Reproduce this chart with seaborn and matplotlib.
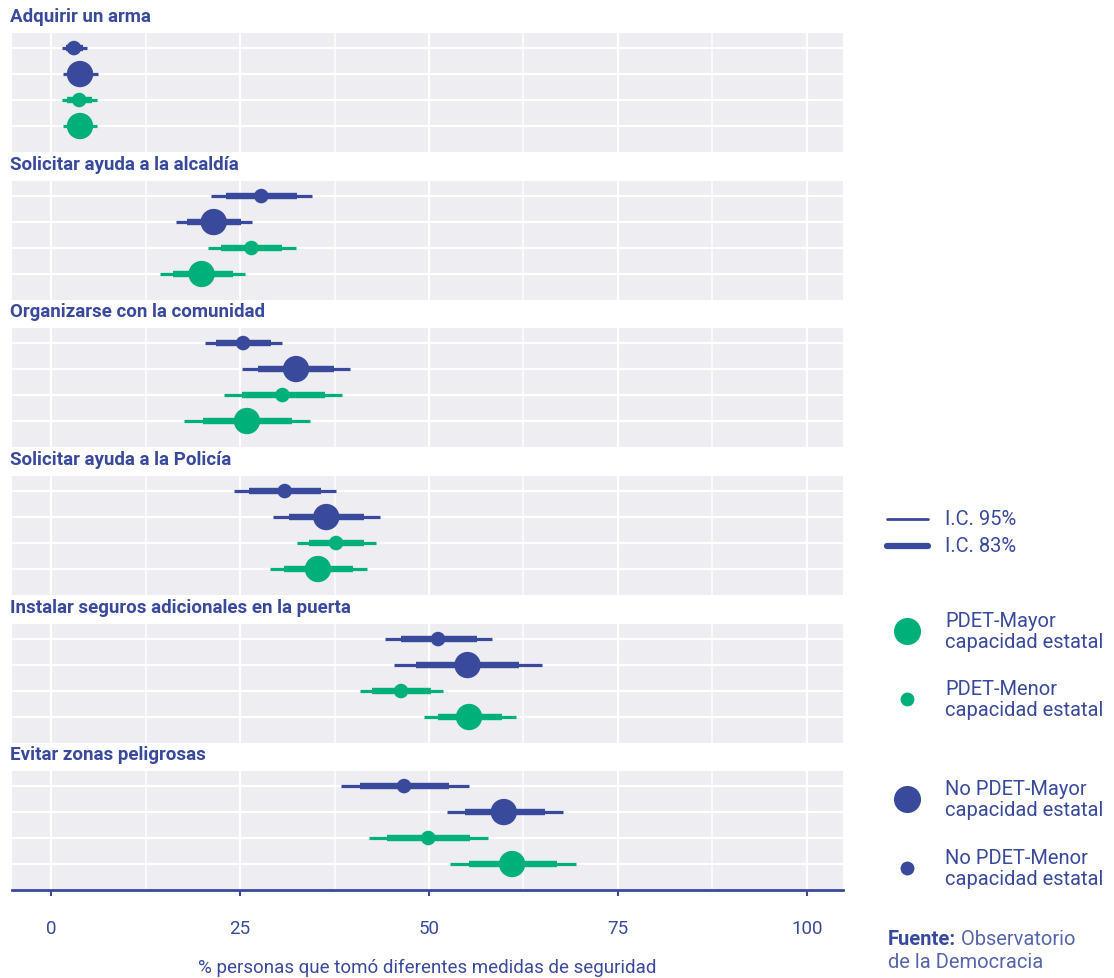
import numpy as np
import pandas as pd
import matplotlib
matplotlib.use('Agg')
import matplotlib.pyplot as plt
import seaborn as sns

medidas = ['Adquirir un arma', 'Solicitar ayuda a la alcaldía', 'Organizarse con la comunidad',
           'Solicitar ayuda a la Policía', 'Instalar seguros adicionales en la puerta',
           'Evitar zonas peligrosas']

grupos = ['No PDET-Menor', 'No PDET-Mayor', 'PDET-Menor', 'PDET-Mayor']

nopdet_menor_est = [3.0, 27.8, 25.4, 30.9, 51.2, 46.7]
nopdet_menor_lo95 = [1.4, 21.1, 20.3, 24.2, 44.2, 38.3]
nopdet_menor_hi95 = [4.7, 34.5, 30.6, 37.7, 58.4, 55.3]
nopdet_menor_lo83 = [1.9, 23.1, 21.8, 26.2, 46.3, 40.9]
nopdet_menor_hi83 = [4.2, 32.5, 29.1, 35.7, 56.3, 52.7]

nopdet_mayor_est = [3.8, 21.5, 32.4, 36.4, 55.1, 59.9]
nopdet_mayor_lo95 = [1.6, 16.5, 25.3, 29.4, 45.4, 52.4]
nopdet_mayor_hi95 = [6.2, 26.6, 39.6, 43.5, 64.9, 67.7]
nopdet_mayor_lo83 = [2.2, 18.0, 27.4, 31.5, 48.3, 54.7]
nopdet_mayor_hi83 = [5.5, 25.1, 37.4, 41.4, 61.9, 65.4]

pdet_menor_est = [3.7, 26.5, 30.6, 37.7, 46.3, 49.9]
pdet_menor_lo95 = [1.4, 20.7, 22.9, 32.5, 40.9, 42.1]
pdet_menor_hi95 = [6.0, 32.4, 38.5, 43.0, 51.9, 57.8]
pdet_menor_lo83 = [2.1, 22.5, 25.3, 34.1, 42.4, 44.5]
pdet_menor_hi83 = [5.4, 30.6, 36.2, 41.4, 50.3, 55.4]

pdet_mayor_est = [3.8, 19.9, 25.9, 35.3, 55.3, 61.0]
pdet_mayor_lo95 = [1.6, 14.4, 17.6, 28.9, 49.3, 52.8]
pdet_mayor_hi95 = [6.1, 25.7, 34.3, 41.8, 61.5, 69.4]
pdet_mayor_lo83 = [2.2, 16.1, 20.1, 30.8, 51.2, 55.3]
pdet_mayor_hi83 = [5.4, 24.0, 31.8, 39.9, 59.6, 66.9]

x_ticks = [0, 25, 50, 75, 100]

AZUL = '#394A9C'
VERDE = '#00B07A'
FONDO = '#EDEDF2'

filas = []
tablas = [
    (nopdet_menor_est, nopdet_menor_lo95, nopdet_menor_hi95, nopdet_menor_lo83, nopdet_menor_hi83),
    (nopdet_mayor_est, nopdet_mayor_lo95, nopdet_mayor_hi95, nopdet_mayor_lo83, nopdet_mayor_hi83),
    (pdet_menor_est, pdet_menor_lo95, pdet_menor_hi95, pdet_menor_lo83, pdet_menor_hi83),
    (pdet_mayor_est, pdet_mayor_lo95, pdet_mayor_hi95, pdet_mayor_lo83, pdet_mayor_hi83),
]
for g, (est, lo95, hi95, lo83, hi83) in zip(grupos, tablas):
    for i, m in enumerate(medidas):
        filas.append({'medida': m, 'grupo': g, 'fila': grupos.index(g),
                      'pdet': 'No PDET' if g.startswith('No') else 'PDET',
                      'capacidad': g.split('-')[1],
                      'est': est[i], 'lo95': lo95[i], 'hi95': hi95[i],
                      'lo83': lo83[i], 'hi83': hi83[i]})
df = pd.DataFrame(filas)

sns.set_style('white')
plt.rcParams['font.family'] = ['Roboto', 'DejaVu Sans']

W, H = 1114, 979
fig = plt.figure(figsize=(W / 100, H / 100), dpi=100)

paleta = {'No PDET': AZUL, 'PDET': VERDE}
tamanos = {'Mayor': 360, 'Menor': 110}

tops = [34, 182, 329, 477, 625, 772]
alto = 119
izq, der = 12, 843

for k, m in enumerate(medidas):
    ax = fig.add_axes([izq / W, 1 - (tops[k] + alto) / H, (der - izq) / W, alto / H])
    ax.set_facecolor(FONDO)
    sub = df[df['medida'] == m]
    for xv in np.arange(0, 101, 12.5):
        ax.axvline(xv, color='white', lw=1.6 if xv % 25 == 0 else 1.1, zorder=0)
    for r in range(4):
        ax.axhline(r, color='white', lw=1.6, zorder=0)
    for _, row in sub.iterrows():
        c = paleta[row['pdet']]
        ax.hlines(row['fila'], row['lo95'], row['hi95'], color=c, lw=2.3, zorder=2)
        ax.hlines(row['fila'], row['lo83'], row['hi83'], color=c, lw=4.6, zorder=3)
    sns.scatterplot(data=sub, x='est', y='fila', hue='pdet', size='capacidad',
                    palette=paleta, sizes=tamanos, linewidth=0, legend=False,
                    ax=ax, zorder=4)
    ax.set_xlim(-5.2, 104.8)
    ax.set_ylim(4.0, -0.58)
    ax.set_yticks([])
    ax.set_xlabel('')
    ax.set_ylabel('')
    for s in ax.spines.values():
        s.set_visible(False)
    fig.text(10 / W, 1 - (tops[k] - 17) / H, m, fontsize=13.5, fontweight='bold',
             color=AZUL, va='center', ha='left')
    if k == len(medidas) - 1:
        ax.spines['bottom'].set_visible(True)
        ax.spines['bottom'].set_color(AZUL)
        ax.spines['bottom'].set_linewidth(2)
        ax.set_xticks(x_ticks)
        ax.set_xticklabels([str(t) for t in x_ticks])
        ax.tick_params(axis='x', colors=AZUL, length=4, width=1.5, pad=17,
                       labelsize=13.5, bottom=True)
    else:
        ax.set_xticks([])

fig.text(((izq + der) / 2) / W, 1 - 968 / H,
         '% personas que tomó diferentes medidas de seguridad',
         fontsize=13.5, color=AZUL, ha='center', va='center')

# leyenda a la derecha
lg = fig.add_axes([0, 0, 1, 1])
lg.set_xlim(0, W)
lg.set_ylim(H, 0)
lg.axis('off')
lg.patch.set_alpha(0)

lg.plot([887, 928], [520, 520], color=AZUL, lw=2.0)
lg.text(945, 520, 'I.C. 95%', fontsize=14.5, color=AZUL, va='center')
lg.plot([887, 928], [547, 547], color=AZUL, lw=4.5)
lg.text(945, 547, 'I.C. 83%', fontsize=14.5, color=AZUL, va='center')

items = [(632, VERDE, 19.5, 'PDET-Mayor\ncapacidad estatal'),
         (700, VERDE, 10, 'PDET-Menor\ncapacidad estatal'),
         (800, AZUL, 19.5, 'No PDET-Mayor\ncapacidad estatal'),
         (869, AZUL, 10, 'No PDET-Menor\ncapacidad estatal')]
for yy, c, ms, txt in items:
    lg.plot([907], [yy], 'o', color=c, ms=ms, mew=0)
    lg.text(945, yy, txt, fontsize=14.5, color=AZUL, va='center', linespacing=1.18)

t = lg.text(888, 940, 'Fuente:', fontsize=14.5, color=AZUL, fontweight='bold', va='center')
lg.annotate(' Observatorio', xy=(1, 0.5), xycoords=t, fontsize=14.5, color=AZUL,
            va='center', ha='left', alpha=0.85)
lg.text(888, 963, 'de la Democracia', fontsize=14.5, color=AZUL, va='center', alpha=0.85)

fig.savefig('out.png', dpi=100)
